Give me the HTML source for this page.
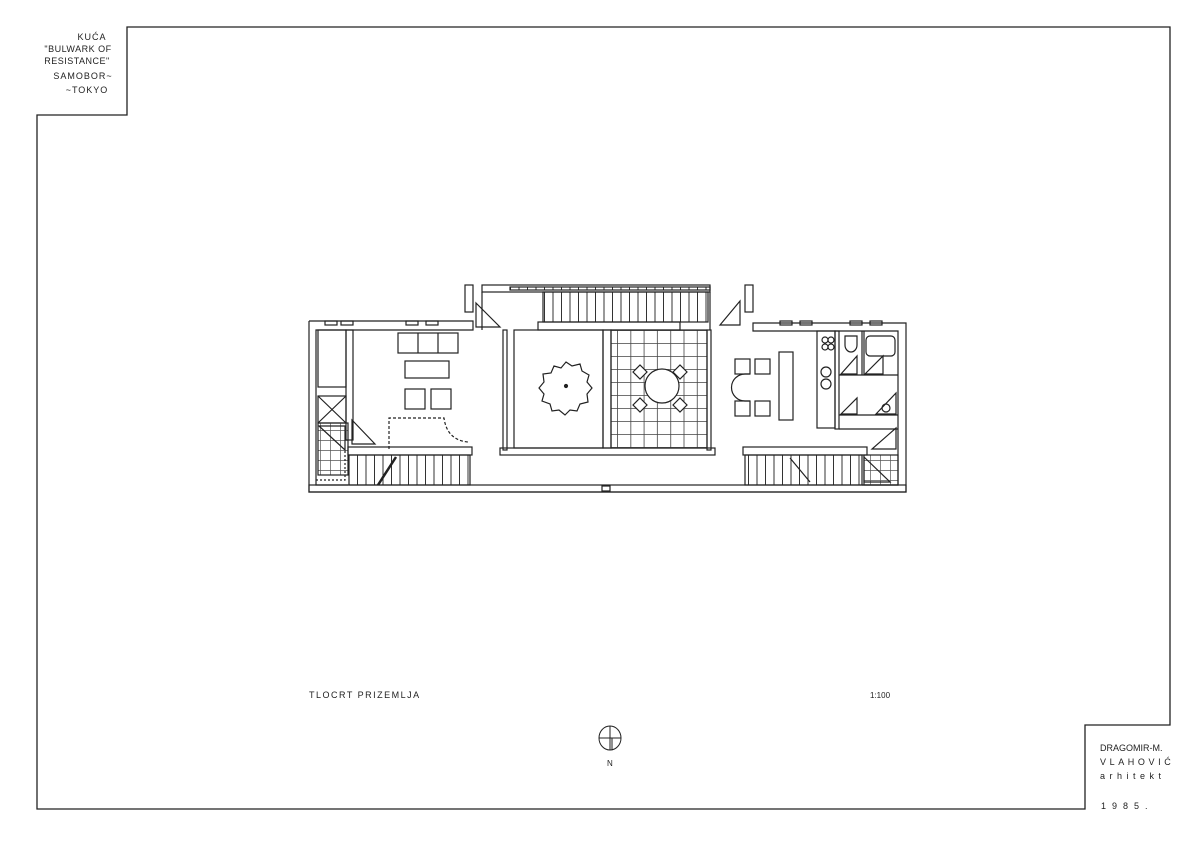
<!DOCTYPE html>
<html><head><meta charset="utf-8"><style>
html,body{margin:0;padding:0;background:#fff}
svg{display:block}
text{font-family:"Liberation Sans",sans-serif;fill:#222}
</style></head><body>
<svg width="1200" height="847" viewBox="0 0 1200 847" xmlns="http://www.w3.org/2000/svg">
<defs>
<pattern id="tread" width="8.5" height="10" patternUnits="userSpaceOnUse"><line x1="0.5" y1="0" x2="0.5" y2="10" stroke="#333" stroke-width="1"/></pattern>
<pattern id="tile" width="13.3" height="13" patternUnits="userSpaceOnUse" x="617" y="330"><path d="M0.5 0V13M0 0.5H13.3" stroke="#444" stroke-width="0.8" fill="none"/></pattern>
<pattern id="tile2" width="10" height="10" patternUnits="userSpaceOnUse"><path d="M0.5 0V10M0 0.5H10" stroke="#555" stroke-width="0.7" fill="none"/></pattern>
</defs>
<g fill="none" stroke="#222" stroke-width="1.3">
<path d="M127 115V27H1170V725H1085V809H37V115Z"/>
</g>
<text x="92" y="40" font-size="9" text-anchor="middle" letter-spacing="1">KUĆA</text>
<text x="78" y="52" font-size="9" text-anchor="middle" letter-spacing="0.5">"BULWARK OF</text>
<text x="77" y="64" font-size="9" text-anchor="middle" letter-spacing="0.5">RESISTANCE"</text>
<text x="83" y="79" font-size="9" text-anchor="middle" letter-spacing="1">SAMOBOR~</text>
<text x="87" y="93" font-size="9" text-anchor="middle" letter-spacing="1">~TOKYO</text>
<text x="1100" y="751" font-size="9">DRAGOMIR-M.</text>
<text x="1100" y="765" font-size="9" letter-spacing="3.6">VLAHOVIĆ</text>
<text x="1100" y="779" font-size="9" letter-spacing="4.5">arhitekt</text>
<text x="1101" y="809" font-size="9" letter-spacing="6">1985.</text>
<text x="309" y="698" font-size="9" letter-spacing="1.5">TLOCRT  PRIZEMLJA</text>
<text x="870" y="698" font-size="8">1:100</text>
<g fill="none" stroke="#222" stroke-width="1">
<ellipse cx="610" cy="738" rx="11" ry="12"/>
<path d="M599 738H621M610 726V750M612 738V750"/>
</g>
<text x="607" y="766" font-size="8">N</text>

<g fill="none" stroke="#222" stroke-width="1.2">
<path d="M309 321H473V330H316V485H348"/>
<path d="M309 321V492H906V323H753V331H898V485H862"/>
<rect x="309" y="485" width="597" height="7"/>
<rect x="465" y="285" width="8" height="27"/>
<rect x="745" y="285" width="8" height="27"/>
<rect x="482" y="285" width="228" height="7"/>
<rect x="510" y="287" width="200" height="3" fill="url(#tread)"/>
<path d="M482 292V330M710 292V330"/>
<rect x="543" y="292" width="165" height="30" fill="url(#tread)"/>
<rect x="538" y="322" width="142" height="8"/>
<path d="M476 303L500 327H476Z M740 301L720 325H740Z"/>
<rect x="503" y="330" width="4" height="120"/>
<rect x="707" y="330" width="4" height="120"/>
<rect x="500" y="448" width="215" height="7"/>
<rect x="603" y="330" width="8" height="118"/>
<rect x="611" y="330" width="96" height="118" fill="url(#tile)"/>
<rect x="514" y="330" width="89" height="118"/>
<path d="M566 362l6 4 8-2 2 7 7 4-2 7 5 6-5 6 1 8-8 2-3 7-7-1-5 5-6-5-7 1-2-7-8-3 2-7-5-6 5-6-1-8 8-1 3-7 7 2z"/>
<circle cx="566" cy="386" r="1.5" fill="#222"/>
<circle cx="662" cy="386" r="17" fill="#fff"/>
<path d="M633 372l7-7 7 7-7 7z M673 372l7-7 7 7-7 7z M633 405l7-7 7 7-7 7z M673 405l7-7 7 7-7 7z" fill="#fff"/>
<rect x="398" y="333" width="60" height="20"/>
<path d="M418 333V353M438 333V353"/>
<rect x="405" y="361" width="44" height="17"/>
<rect x="405" y="389" width="20" height="20"/>
<rect x="431" y="389" width="20" height="20"/>
<rect x="318" y="330" width="28" height="57"/>
<rect x="346" y="330" width="7" height="110"/>
<rect x="318" y="396" width="28" height="27"/>
<path d="M318 396L346 423M346 396L318 423"/>
<rect x="318" y="423" width="30" height="52" fill="url(#tile2)"/>
<path d="M319 426L345 450V426Z M352 420L375 444H352Z"/>
<path d="M389 449V418H444Q447 440 468 442" stroke-dasharray="3 2"/>
<rect x="348" y="447" width="124" height="8"/>
<rect x="349" y="455" width="121" height="30" fill="url(#tread)"/>
<path d="M396 457L378 485" stroke-width="2.5"/>
<path d="M316 480H345V450" stroke-dasharray="2 2"/>
<rect x="325" y="321" width="12" height="4"/><rect x="341" y="321" width="12" height="4"/>
<rect x="406" y="321" width="12" height="4"/><rect x="426" y="321" width="12" height="4"/>
<rect x="735" y="359" width="15" height="15"/><rect x="755" y="359" width="15" height="15"/>
<rect x="735" y="401" width="15" height="15"/><rect x="755" y="401" width="15" height="15"/>
<path d="M750 374H745A13 13 0 0 0 745 401H750"/>
<rect x="779" y="352" width="14" height="68"/>
<rect x="817" y="331" width="18" height="97"/>
<circle cx="825" cy="340" r="3"/><circle cx="831" cy="340" r="3"/><circle cx="825" cy="347" r="3"/><circle cx="831" cy="347" r="3"/>
<circle cx="826" cy="372" r="5"/><circle cx="826" cy="384" r="5"/>
<rect x="835" y="331" width="4" height="98"/>
<path d="M839 429H898M862 331V375M864 331V375M839 375H898M839 415H898"/>
<path d="M845 345a6 7 0 0 0 12 0V336H845Z"/>
<rect x="866" y="336" width="29" height="20" rx="4"/>
<path d="M841 374L857 356V374Z M865 374L883 356V374Z M876 414L896 393V414Z M841 414L857 398V414Z"/>
<circle cx="886" cy="408" r="4"/>
<path d="M896 428L872 449H896Z"/>
<rect x="743" y="447" width="124" height="8"/>
<rect x="745" y="455" width="117" height="30" fill="url(#tread)"/>
<rect x="864" y="455" width="34" height="30" fill="url(#tile2)"/>
<path d="M864 457L890 482H864Z M790 458L810 482"/>
<rect x="780" y="321" width="12" height="4"/><rect x="800" y="321" width="12" height="4"/>
<rect x="850" y="321" width="12" height="4"/><rect x="870" y="321" width="12" height="4"/>
<rect x="602" y="486" width="8" height="5"/>
</g>
</svg>
</body></html>
